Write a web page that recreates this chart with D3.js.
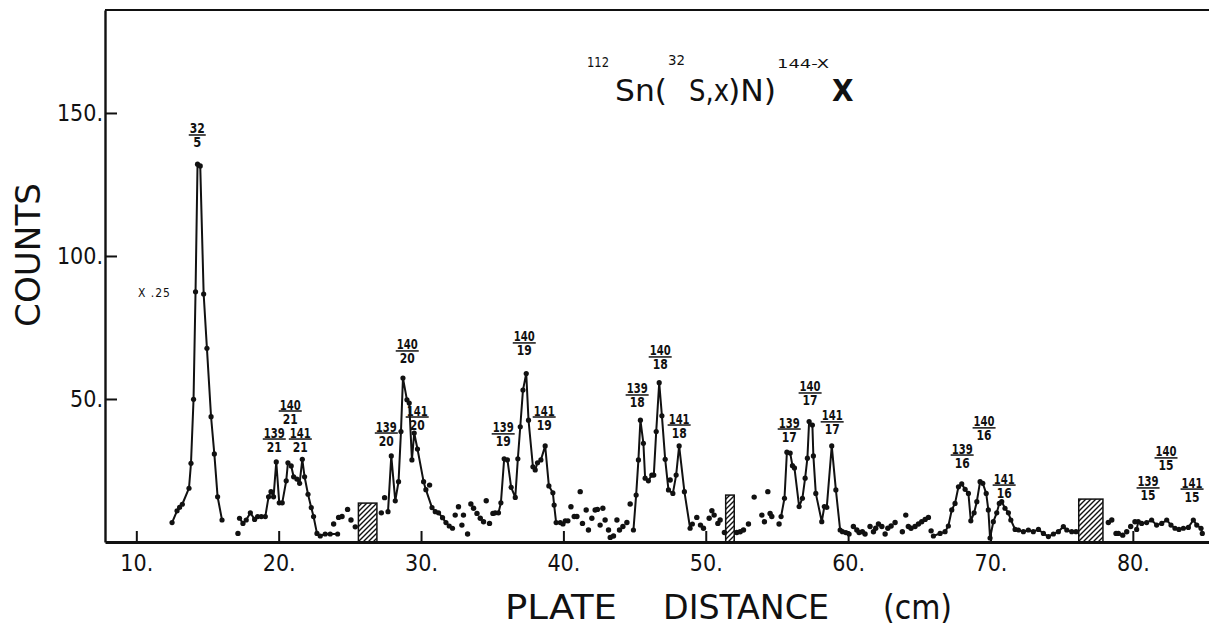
<!DOCTYPE html>
<html><head><meta charset="utf-8">
<script src="https://cdn.jsdelivr.net/npm/d3@7"></script>
<style>
body{margin:0;background:#fff}
svg{display:block}
text{font-family:"DejaVu Sans Condensed","DejaVu Sans",sans-serif;fill:#111}
</style>
</head><body>
<svg id="chart" width="1209" height="629"></svg>
<script>
// ---------- data ----------
const xTickValues = [10, 20, 30, 40, 50, 60, 70, 80];
const yTickValues = [50, 100, 150];

// connected peak groups (plate distance cm, counts)
const seg1X = [12.51,12.86,13.04,13.23,13.70,13.84,14.02,14.16,14.30,14.49,14.73,14.96,15.25,15.48,15.71,16.02];
const seg1Y = [6.8,10.9,12.1,13.2,18.8,27.5,49.9,87.5,132.1,131.5,86.7,67.7,43.8,30.8,15.8,7.7];
const seg2X = [17.25,17.49,17.72,18.01,18.31,18.52,18.78,19.06,19.29,19.46,19.64,19.83,20.04,20.25,20.53,20.65,20.88,21.05,21.28,21.47,21.66,21.82,22.06,22.29,22.45,22.69,22.92,23.27,23.62,24.14];
const seg2Y = [8.3,6.5,7.7,10.2,7.9,8.9,8.9,8.9,15.8,17.6,15.8,28.0,13.7,13.7,21.4,27.7,26.6,22.8,22.0,20.5,28.9,22.8,16.7,12.0,8.9,3.0,2.1,2.8,2.8,2.8];
const seg3X = [27.68,27.91,28.19,28.42,28.59,28.73,29.01,29.17,29.36,29.52,29.75,30.18,30.34,30.77,31.00,31.23,31.51,31.75,31.98,32.21];
const seg3Y = [10.6,30.1,14.4,21.1,38.6,57.3,49.7,48.6,28.7,38.1,32.5,21.1,18.3,12.0,10.6,10.2,8.5,6.8,5.6,4.8];
const seg4X = [35.21,35.44,35.61,35.84,36.07,36.33,36.62,36.80,36.97,37.16,37.39,37.55,37.86,38.02,38.18,38.42,38.72,38.98,39.26,39.35,39.49,39.78,39.97,40.13,40.32];
const seg4Y = [10.2,10.2,13.7,29.1,28.7,19.1,15.6,29.1,40.3,53.1,58.9,42.6,26.3,25.2,27.7,28.7,33.6,19.6,17.2,12.9,6.8,6.8,6.3,7.4,7.4];
const seg5X = [44.92,45.11,45.27,45.41,45.62,45.74,45.97,46.21,46.35,46.52,46.73,46.92,47.15,47.38,47.69,47.92,48.13,48.50,48.90,49.06];
const seg5Y = [4.2,16.4,28.7,42.6,34.5,22.3,21.4,23.4,23.4,38.6,55.7,44.1,28.9,18.2,17.0,23.4,33.6,17.6,4.8,6.3];
const seg6X = [55.29,55.53,55.70,55.93,56.09,56.23,56.56,56.79,56.98,57.14,57.26,57.49,57.56,57.73,58.15,58.33,58.50,58.85,59.14,59.44,59.60,59.84,60.07];
const seg6Y = [8.9,15.3,31.4,31.1,26.7,25.9,12.4,15.3,22.3,29.3,42.1,40.9,30.1,17.0,7.1,12.4,12.1,33.6,18.2,4.2,3.6,3.3,2.8];
const seg7X = [65.99,66.46,66.81,67.04,67.28,67.51,67.75,67.98,68.22,68.45,68.62,68.85,69.04,69.27,69.46,69.70,69.85,69.97,70.20,70.44,70.62,70.79,71.02,71.26,71.43,71.73,71.96,72.31,72.66,73.01,73.37,73.72,74.07,74.42,74.77,75.12,75.36,75.71,76.01];
const seg7Y = [2.1,3.0,3.6,5.6,11.2,13.5,19.3,20.3,18.4,17.0,7.4,10.2,14.1,21.1,20.5,17.0,11.2,1.4,7.1,10.2,13.5,14.1,11.8,10.2,7.7,4.4,4.2,3.6,4.2,3.6,4.4,3.0,1.9,2.8,3.6,5.4,4.2,3.6,3.6];
const seg8X = [80.27,80.38,80.62,80.97,81.32,81.67,82.03,82.38,82.68,82.96,83.24,83.55,83.90,84.25,84.49,84.79,84.88];
const seg8Y = [4.4,7.1,6.5,6.8,7.7,5.9,6.5,7.7,5.9,4.8,4.4,4.8,5.1,7.7,5.9,4.8,3.0];

// isolated (unconnected) points
const scatterX = [17.14,23.86,24.21,24.45,24.84,25.08,25.38,27.21,27.44,30.60,
  32.40,32.63,32.87,32.98,33.27,33.50,33.69,33.93,34.16,34.39,34.58,34.81,35.05,
  40.53,40.76,40.95,41.18,41.34,41.60,41.76,42.00,42.23,42.39,42.58,42.77,42.93,43.17,43.29,43.52,43.76,43.94,44.18,44.46,44.69,
  47.50,
  49.37,49.63,49.84,50.24,50.43,50.59,50.85,51.01,51.31,52.18,52.42,52.65,53.00,53.40,53.94,54.12,54.36,54.52,54.64,55.15,
  60.37,60.61,60.77,61.00,61.19,61.54,61.78,61.94,62.13,62.37,62.60,62.79,63.02,63.30,63.81,64.05,64.23,64.42,64.70,64.94,65.17,65.41,65.64,65.83,
  78.28,78.52,78.82,78.98,79.29,79.57,79.85,80.15];
const scatterY = [3.0,6.3,8.6,8.9,11.4,7.7,5.3,10.2,15.5,19.9,
  9.4,12.3,5.9,9.4,2.8,13.3,11.8,10.0,8.3,7.1,14.4,6.5,10.0,
  12.3,8.9,8.9,17.6,6.5,11.2,4.2,8.3,11.2,11.4,5.9,11.8,7.7,4.2,1.6,2.1,7.7,4.2,5.4,6.8,13.3,
  21.7,
  8.6,5.9,4.8,8.3,10.9,9.4,6.5,7.7,3.3,3.3,3.6,4.2,6.3,15.7,9.4,7.1,17.6,10.0,8.9,6.3,
  5.4,4.2,3.3,3.6,2.8,5.4,3.6,4.8,6.3,5.4,2.8,4.8,5.6,6.8,3.6,9.4,5.4,4.8,5.4,6.3,7.1,7.9,8.6,3.9,
  6.8,7.7,3.0,3.0,2.4,3.6,5.4,7.1];

// hatched (excluded) plate regions
const hatchStart = [25.6, 51.4, 76.2];
const hatchEnd   = [26.9, 52.0, 77.9];
const hatchTop   = [13.6, 16.4, 15.0];

// peak labels (mass / charge)
const labelTop    = ["32","139","140","141","139","140","141","139","140","141","139","140","141","139","140","141","139","140","141","139","140","141"];
const labelBottom = ["5","21","21","21","20","20","20","19","19","19","18","18","18","17","17","17","16","16","16","15","15","15"];
const labelX      = [14.28,19.69,20.81,21.52,27.56,29.03,29.73,35.77,37.25,38.65,45.18,46.80,48.13,55.86,57.33,58.88,68.01,69.55,70.96,81.07,82.33,84.16];
const labelY      = [142.3,36.0,45.8,36.0,38.1,66.8,43.7,37.8,69.6,43.7,51.4,64.7,40.9,39.5,52.1,42.0,30.4,39.9,19.9,18.9,29.4,18.5];

// ---------- chart ----------
const svg = d3.select("#chart");
const x = d3.scaleLinear().domain([7.8, 85.35]).range([105, 1209]);
const y = d3.scaleLinear().domain([0, 186]).range([542, 10]);

// hatch pattern ("////")
const defs = svg.append("defs");
defs.append("pattern").attr("id","hatch").attr("patternUnits","userSpaceOnUse")
  .attr("width",5).attr("height",5)
  .append("path").attr("d","M-1,1 L1,-1 M0,5 L5,0 M4,6 L6,4")
  .attr("stroke","#111").attr("stroke-width",1.4).attr("fill","none");

// frame (top)
svg.append("line").attr("x1",x.range()[0]).attr("x2",x.range()[1]).attr("y1",y.range()[1]).attr("y2",y.range()[1])
  .attr("stroke","#111").attr("stroke-width",2.2);

// axes
const xAxis = d3.axisBottom(x).tickValues(xTickValues).tickSizeInner(-11).tickSizeOuter(0)
  .tickPadding(13).tickFormat(d => d + ".");
const gx = svg.append("g").attr("transform", `translate(0,${y(0)})`).call(xAxis);
gx.select(".domain").attr("stroke","#111").attr("stroke-width",3);
gx.selectAll(".tick line").attr("stroke","#111").attr("stroke-width",2);
gx.selectAll(".tick text").attr("font-size",23).attr("fill","#111")
  .attr("font-family","'DejaVu Sans Condensed','DejaVu Sans',sans-serif");

const yAxis = d3.axisLeft(y).tickValues(yTickValues).tickSizeInner(-12).tickSizeOuter(0)
  .tickPadding(2).tickFormat(d => d + ".");
const gy = svg.append("g").attr("transform", `translate(${x.range()[0]},0)`).call(yAxis);
gy.select(".domain").attr("stroke","#111").attr("stroke-width",2.4);
gy.selectAll(".tick line").attr("stroke","#111").attr("stroke-width",2);
gy.selectAll(".tick text").attr("font-size",23).attr("fill","#111")
  .attr("font-family","'DejaVu Sans Condensed','DejaVu Sans',sans-serif");

// hatched regions
svg.append("g").selectAll("rect").data(hatchStart).join("rect")
  .attr("x",(d)=>x(d)).attr("width",(d,i)=>x(hatchEnd[i])-x(d))
  .attr("y",(d,i)=>y(hatchTop[i])).attr("height",(d,i)=>y(0)-y(hatchTop[i]))
  .attr("fill","url(#hatch)").attr("stroke","#111").attr("stroke-width",1.5);

// connected segments
const segments = [[seg1X,seg1Y],[seg2X,seg2Y],[seg3X,seg3Y],[seg4X,seg4Y],
                  [seg5X,seg5Y],[seg6X,seg6Y],[seg7X,seg7Y],[seg8X,seg8Y]]
  .map(([xs,ys]) => xs.map((v,i)=>({x:v,y:ys[i]})));
const line = d3.line().x(d=>x(d.x)).y(d=>y(d.y));
const gl = svg.append("g");
gl.selectAll("path").data(segments).join("path")
  .attr("d",line).attr("fill","none").attr("stroke","#111").attr("stroke-width",2)
  .attr("stroke-linejoin","round");
gl.selectAll("circle").data(segments.flat()).join("circle")
  .attr("cx",d=>x(d.x)).attr("cy",d=>y(d.y)).attr("r",2.6).attr("fill","#111");

// isolated points
svg.append("g").selectAll("circle").data(scatterX).join("circle")
  .attr("cx",d=>x(d)).attr("cy",(d,i)=>y(scatterY[i])).attr("r",2.7).attr("fill","#111");

// peak labels
const gLab = svg.append("g");
labelTop.forEach((t,i)=>{
  const cx = x(labelX[i]), cy = y(labelY[i]);
  const w = t.length === 3 ? 21 : 15;
  const wb = labelBottom[i].length === 2 ? 15 : 8;
  gLab.append("text").attr("x",cx - w/2).attr("y",cy-1.5)
    .attr("font-size",14).attr("font-weight","bold")
    .attr("textLength",w).attr("lengthAdjust","spacingAndGlyphs").text(t);
  gLab.append("line").attr("x1",cx-w/2-1).attr("x2",cx+w/2+1).attr("y1",cy).attr("y2",cy)
    .attr("stroke","#111").attr("stroke-width",1.5);
  gLab.append("text").attr("x",cx - wb/2).attr("y",cy+12.5)
    .attr("font-size",14).attr("font-weight","bold")
    .attr("textLength",wb).attr("lengthAdjust","spacingAndGlyphs").text(labelBottom[i]);
});

// "X .25" scale note
svg.append("text").attr("x",138).attr("y",297).attr("font-size",12)
  .attr("letter-spacing",1).attr("font-family","'DejaVu Sans',sans-serif").text("X .25");

// reaction title
const tf = "'DejaVu Sans',sans-serif";
const title = [
  {t:"112", x:587, y:67, s:14, w:22},
  {t:"Sn(", x:615, y:101, s:30, w:52},
  {t:"32", x:668, y:65, s:14, w:17},
  {t:"S,x", x:689, y:101, s:30, w:40},
  {t:")N)", x:728, y:101, s:30, w:48},
  {t:"144-X", x:777, y:68, s:13, w:52}
];
title.forEach(d=>svg.append("text").attr("x",d.x).attr("y",d.y).attr("font-size",d.s)
  .attr("font-family",tf).attr("textLength",d.w).attr("lengthAdjust","spacingAndGlyphs").text(d.t));
svg.append("text").attr("x",832).attr("y",101).attr("font-size",31).attr("font-weight","bold")
  .attr("font-family","'DejaVu Serif','Liberation Serif',serif").text("X");

// axis titles
[["PLATE",505,112],["DISTANCE",663,166],["(cm)",883,69]].forEach(([t,px,w])=>{
  svg.append("text").attr("x",px).attr("y",619).attr("font-size",33)
    .attr("font-family",tf).attr("textLength",w).attr("lengthAdjust","spacingAndGlyphs").text(t);
});
svg.append("text").attr("transform","translate(40,255) rotate(-90)").attr("text-anchor","middle")
  .attr("font-size",34).attr("font-family",tf).attr("textLength",144)
  .attr("lengthAdjust","spacingAndGlyphs").text("COUNTS");
</script>
</body></html>
